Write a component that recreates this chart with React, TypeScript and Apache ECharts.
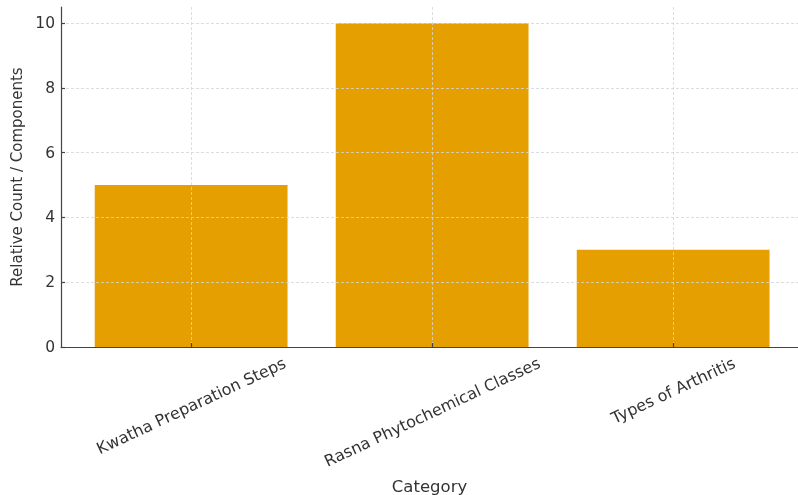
import React, { useEffect, useRef } from "react";
import * as echarts from "echarts";

const categories = ["Kwatha Preparation Steps", "Rasna Phytochemical Classes", "Types of Arthritis"];
const values = [5, 10, 3];
const yTicks = [0, 2, 4, 6, 8, 10];
const xPositions = [0, 1, 2];

const FONT = "DejaVu Sans";
const XFS = 16;
const ROT = 25;

function measure(text: string, fs: number): number {
  const c = document.createElement("canvas").getContext("2d");
  if (!c) return text.length * fs * 0.6;
  c.font = `${fs}px "${FONT}"`;
  return c.measureText(text).width;
}

export default function App() {
  const ref = useRef<HTMLDivElement>(null);
  useEffect(() => {
    if (!ref.current) return;
    const chart = echarts.init(ref.current, null, { renderer: "svg", width: 798, height: 495 });
    const W = 798;
    const left = 61;
    const right = 0;
    const xMin = -0.54;
    const unit = 241;
    const gridW = W - left - right;
    const xMax = xMin + gridW / unit;
    const th = (ROT * Math.PI) / 180;
    const rich: Record<string, any> = {};
    categories.forEach((c, i) => {
      const L = measure(c, XFS);
      rich["l" + i] = {
        fontFamily: FONT,
        fontSize: XFS,
        color: "#333",
        padding: [L * Math.sin(th) * Math.cos(th), L * Math.sin(th) * Math.sin(th), 0, 0],
      };
    });
    chart.setOption({
      animation: false,
      grid: { left, right, top: 7, bottom: 148, containLabel: false, outerBoundsMode: "none" },
      xAxis: {
        type: "value",
        min: xMin,
        max: xMax,
        z: 3,
        name: "Category",
        nameLocation: "middle",
        nameGap: 131,
        nameTextStyle: { fontFamily: FONT, fontSize: 16.5, color: "#333", verticalAlign: "top" },
        axisLine: { show: true, onZero: false, lineStyle: { color: "#444", width: 1.2 } },
        axisTick: { show: true, inside: true, length: 4, customValues: xPositions, lineStyle: { color: "#444", width: 1.2 } },
        axisLabel: {
          customValues: xPositions,
          rotate: ROT,
          align: "center",
          verticalAlign: "middle",
          margin: 15,
          fontFamily: FONT,
          fontSize: XFS,
          color: "#333",
          formatter: (v: number) => {
            const i = Math.round(v);
            return categories[i] !== undefined ? `{l${i}|${categories[i]}}` : "";
          },
          rich,
        },
        splitLine: { show: true, lineStyle: { color: "#d4d4d4", type: [3, 2], width: 0.8 } },
      },
      yAxis: {
        type: "value",
        min: 0,
        max: 10.5,
        interval: 2,
        z: 3,
        name: "Relative Count / Components",
        nameLocation: "middle",
        nameGap: 35,
        nameTextStyle: { fontFamily: FONT, fontSize: 15, color: "#333" },
        axisLine: { show: true, onZero: false, lineStyle: { color: "#444", width: 1.2 } },
        axisTick: { show: true, inside: true, length: 4, customValues: yTicks, lineStyle: { color: "#444", width: 1.2 } },
        axisLabel: { customValues: yTicks, margin: 6, fontFamily: FONT, fontSize: 15.5, color: "#333" },
        splitLine: { show: true, lineStyle: { color: "#d4d4d4", type: [3, 2], width: 0.8 } },
      },
      series: [
        {
          type: "bar",
          z: 2,
          barWidth: 0.8 * unit,
          itemStyle: { color: "#E69F00" },
          data: values.map((v, i) => [xPositions[i], v]),
        },
      ],
    });
    return () => chart.dispose();
  }, []);
  return (
    <div
      ref={ref}
      style={{ position: "fixed", left: 0, top: 0, width: 798, height: 495 }}
    />
  );
}
